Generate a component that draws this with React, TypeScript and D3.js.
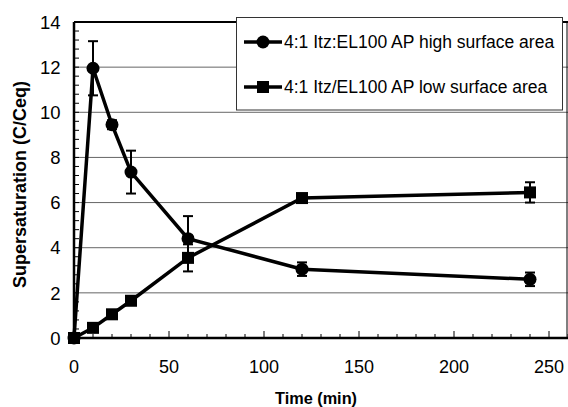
import * as d3 from 'd3';

const times = [0, 10, 20, 30, 60, 120, 240];
const highArea = [0, 11.95, 9.45, 7.35, 4.4, 3.05, 2.6];
const highErr = [0, 1.2, 0.2, 0.95, 1.0, 0.3, 0.3];
const lowArea = [0, 0.45, 1.05, 1.65, 3.55, 6.2, 6.45];
const lowErr = [0, 0, 0, 0, 0.6, 0.1, 0.45];
const xTicks = [0, 50, 100, 150, 200, 250];
const yTicks = [0, 2, 4, 6, 8, 10, 12, 14];
const seriesNames = ['4:1 Itz:EL100 AP high surface area', '4:1 Itz/EL100 AP low surface area'];

const W = 568;
const H = 407;
const FONT = 'Arial, "Liberation Sans", sans-serif';

export default function App() {
  const x = d3.scaleLinear().domain([0, 260]).range([74, 568]);
  const y = d3.scaleLinear().domain([0, 14]).range([338, 22]);

  const line = d3
    .line<number>()
    .x((_, i) => x(times[i]))
    .y((d) => y(d));

  const xMinor = d3.range(0, 261, 10);
  const yMinor = d3.range(0, 14.01, 0.4);

  const errBars = (vals: number[], errs: number[], key: string) =>
    vals.map((v, i) =>
      errs[i] > 0 ? (
        <g key={key + i} stroke="#000" strokeWidth={2}>
          <line x1={x(times[i])} x2={x(times[i])} y1={y(v + errs[i])} y2={y(v - errs[i])} />
          <line x1={x(times[i]) - 5} x2={x(times[i]) + 5} y1={y(v + errs[i])} y2={y(v + errs[i])} />
          <line x1={x(times[i]) - 5} x2={x(times[i]) + 5} y1={y(v - errs[i])} y2={y(v - errs[i])} />
        </g>
      ) : null
    );

  return (
    <svg width={W} height={H} style={{ position: 'absolute', left: 0, top: 0, background: '#fff' }}>
      {/* gridlines */}
      {yTicks.slice(1, -1).map((t) => (
        <line key={'g' + t} x1={x(0)} x2={x(260)} y1={y(t)} y2={y(t)} stroke="#666" strokeWidth={1} />
      ))}

      {/* minor ticks */}
      {xMinor.map((t) => (
        <line key={'xt' + t} x1={x(t)} x2={x(t)} y1={y(0)} y2={y(0) - (t % 50 === 0 ? 7 : 4)} stroke="#000" strokeWidth={1} />
      ))}
      {yMinor.map((t) => (
        <line key={'yt' + t} x1={x(0)} x2={x(0) + 5} y1={y(t)} y2={y(t)} stroke="#000" strokeWidth={1} />
      ))}

      {/* frame */}
      <line x1={x(0)} x2={x(260)} y1={y(14)} y2={y(14)} stroke="#000" strokeWidth={2} />
      <line x1={x(260) - 1} x2={x(260) - 1} y1={y(14)} y2={y(0)} stroke="#000" strokeWidth={1} />
      <line x1={x(0)} x2={x(260)} y1={y(0)} y2={y(0)} stroke="#000" strokeWidth={2.5} />
      <line x1={x(0)} x2={x(0)} y1={y(14)} y2={y(0)} stroke="#000" strokeWidth={2.5} />

      {/* tick labels */}
      {yTicks.map((t) => (
        <text key={'yl' + t} x={60.5} y={y(t)} dy="0.36em" textAnchor="end" fontFamily={FONT} fontSize={18.5}>
          {t}
        </text>
      ))}
      {xTicks.map((t) => (
        <text key={'xl' + t} x={x(t)} y={367} dy="0.36em" textAnchor="middle" fontFamily={FONT} fontSize={18}>
          {t}
        </text>
      ))}

      {/* axis titles */}
      <text x={316} y={398} dy="0.36em" textAnchor="middle" fontFamily={FONT} fontSize={16.3} fontWeight="bold">
        Time (min)
      </text>
      <text
        transform={`translate(20, 184.5) rotate(-90)`}
        dy="0.36em"
        textAnchor="middle"
        fontFamily={FONT}
        fontSize={18}
        fontWeight="bold"
      >
        Supersaturation (C/Ceq)
      </text>

      {/* series */}
      {errBars(highArea, highErr, 'eh')}
      {errBars(lowArea, lowErr, 'el')}
      <path d={line(highArea) ?? ''} fill="none" stroke="#000" strokeWidth={3.5} />
      <path d={line(lowArea) ?? ''} fill="none" stroke="#000" strokeWidth={3.5} />
      {highArea.map((v, i) => (
        <circle key={'c' + i} cx={x(times[i])} cy={y(v)} r={6.5} fill="#000" />
      ))}
      {lowArea.map((v, i) => (
        <rect key={'s' + i} x={x(times[i]) - 6} y={y(v) - 6} width={12} height={12} fill="#000" />
      ))}

      {/* legend */}
      <rect x={236.5} y={17.5} width={326} height={92.5} fill="#fff" stroke="#333" strokeWidth={1} />
      {seriesNames.map((name, i) => {
        const ly = 42 + i * 45;
        return (
          <g key={'lg' + i}>
            <line x1={244} x2={282} y1={ly} y2={ly} stroke="#000" strokeWidth={3.5} />
            {i === 0 ? (
              <circle cx={263} cy={ly} r={6.5} fill="#000" />
            ) : (
              <rect x={257} y={ly - 6} width={12} height={12} fill="#000" />
            )}
            <text x={284} y={ly} dy="0.36em" fontFamily={FONT} fontSize={17.5}>
              {name}
            </text>
          </g>
        );
      })}
    </svg>
  );
}
